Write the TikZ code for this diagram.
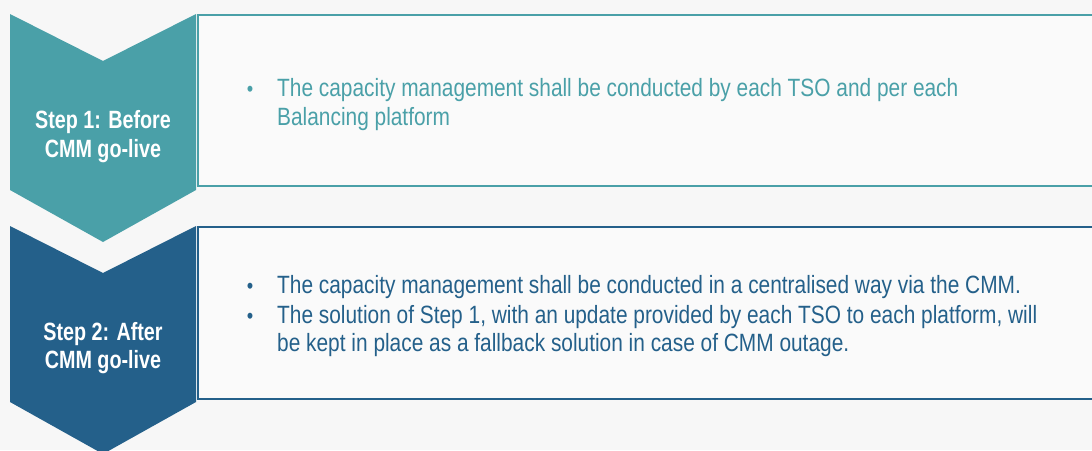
\documentclass[tikz,border=0pt]{standalone}
\usepackage{fontspec}
\setmainfont{Liberation Sans}[FakeStretch=0.835]
\newfontfamily\stepfont{Liberation Sans}[FakeStretch=0.79]
\usepackage{xcolor}
\definecolor{stepTeal}{RGB}{74,160,168}
\definecolor{stepBlue}{RGB}{36,96,138}
\definecolor{pageGray}{RGB}{247,247,247}
\definecolor{boxWhite}{RGB}{250,250,250}

\tikzset{
  steplabel/.style={text=white,font=\stepfont\fontsize{25}{29}\selectfont\bfseries,
    inner sep=0pt,anchor=base},
  bodyline/.style={font=\fontsize{25}{29}\selectfont,inner sep=0pt,anchor=base west},
  dot/.style={font=\fontsize{22}{24}\selectfont,inner sep=0pt,anchor=base}
}

\begin{document}
\begin{tikzpicture}[x=1pt,y=-1pt]
  \fill[pageGray] (0,0) rectangle (1092,450);
  \useasboundingbox (0,0) rectangle (1092,450);
  % step 1
  \filldraw[stepTeal,line width=2.5pt,fill=boxWhite]
    (1095,15) -- (198,15) -- (198,186) -- (1095,186);
  \fill[stepTeal] (10,14) -- (103,61) -- (196,14) -- (196,190)
    -- (103,242) -- (10,190) -- cycle;
  \node[steplabel] (s1a) at (103,128) {Step 1: Before};
  \node[steplabel] (s1b) at (103,157) {CMM go-live};
  \node[dot,text=stepTeal] (d1) at (250,96) {•};
  \foreach \y/\t [count=\i] in {96/The capacity management shall be conducted by each TSO and per each,
      125/Balancing platform}
    \node[bodyline,text=stepTeal] (l1\i) at (277,\y) {\t};
  % step 2
  \filldraw[stepBlue,line width=2.5pt,fill=boxWhite]
    (1095,227) -- (198,227) -- (198,399) -- (1095,399);
  \fill[stepBlue] (10,226) -- (103,273) -- (196,226) -- (196,402)
    -- (103,454) -- (10,402) -- cycle;
  \node[steplabel] (s2a) at (103,340) {Step 2: After};
  \node[steplabel] (s2b) at (103,368) {CMM go-live};
  \node[dot,text=stepBlue] (d2) at (250,293) {•};
  \node[dot,text=stepBlue] (d3) at (250,323) {•};
  \foreach \y/\t [count=\i] in {293/The capacity management shall be conducted in a centralised way via the CMM.,
      323/{The solution of Step 1, with an update provided by each TSO to each platform, will},
      351/be kept in place as a fallback solution in case of CMM outage.}
    \node[bodyline,text=stepBlue] (l2\i) at (277,\y) {\t};
\end{tikzpicture}
\end{document}
